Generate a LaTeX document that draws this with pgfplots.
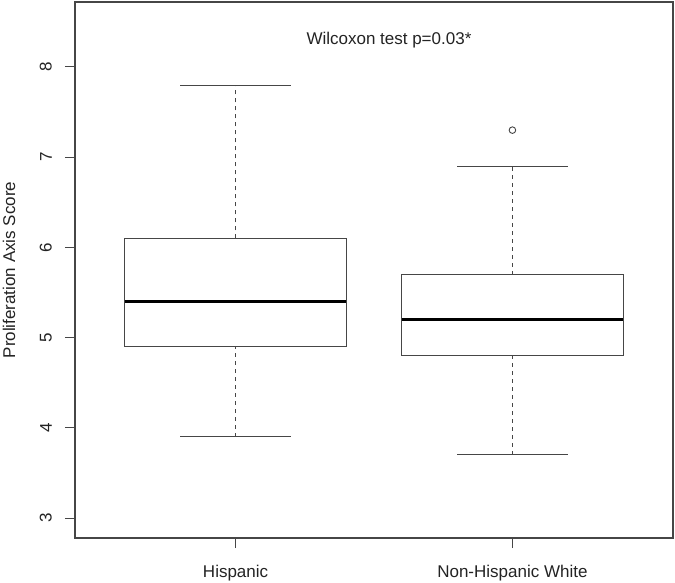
\documentclass[border=0pt]{standalone}
\usepackage{fontspec}
\setmainfont{Liberation Sans}
\usepackage{pgfplots}
\pgfplotsset{compat=1.18}
\definecolor{rline}{RGB}{70,70,70}
\definecolor{rtext}{RGB}{35,35,35}

% box statistics
% Hispanic:  whiskers 3.9 / 7.8, quartiles 4.9 / 6.1, median 5.4
% Non-Hispanic White: whiskers 3.7 / 6.9, quartiles 4.8 / 5.7, median 5.2, outlier 7.3

\begin{document}
\begin{tikzpicture}[font=\fontsize{17bp}{20bp}\selectfont]
\useasboundingbox (-75bp,-45bp) rectangle (600bp,538bp);
\begin{axis}[
  scale only axis, width=598bp, height=536bp,
  xmin=0.42, xmax=2.58, ymin=2.78, ymax=8.72,
  axis line style={rline, line width=1.1bp},
  xtick={1,2}, xticklabels={Hispanic, Non-Hispanic White},
  ytick={3,4,5,6,7,8},
  tick align=outside, major tick length=10bp,
  tick style={rline, line width=1bp},
  xtick pos=left, ytick pos=left,
  /pgf/number format/assume math mode=true,
  ticklabel style={text=rtext, font=\fontsize{17bp}{20bp}\selectfont},
  yticklabel style={rotate=90, anchor=south, inner sep=0pt},
  xticklabel style={anchor=north, inner sep=0pt},
  xticklabel shift=17bp, yticklabel shift=13bp,
  ylabel={Proliferation Axis Score},
  ylabel style={at={(axis description cs:-0.1104,0.5)}, anchor=center,
    text=rtext, font=\fontsize{17bp}{20bp}\selectfont},
  cycle list={{draw=rline, line width=1bp, mark=none, solid}},
  ln/.style={draw=rline, line width=1bp, mark=none, solid},
  whisk/.style={ln, dash pattern=on 4bp off 4bp},
  med/.style={draw=black, line width=3bp, mark=none, solid},
]
% Hispanic
\addplot[whisk] coordinates {(1,3.9) (1,4.9)};
\addplot[whisk] coordinates {(1,6.1) (1,7.8)};
\addplot[ln] coordinates {(0.8,3.9) (1.2,3.9)};
\addplot[ln] coordinates {(0.8,7.8) (1.2,7.8)};
\addplot[ln] coordinates {(0.6,4.9) (1.4,4.9) (1.4,6.1) (0.6,6.1) (0.6,4.9)} -- cycle;
\addplot[med] coordinates {(0.6,5.4) (1.4,5.4)};
% Non-Hispanic White
\addplot[whisk] coordinates {(2,3.7) (2,4.8)};
\addplot[whisk] coordinates {(2,5.7) (2,6.9)};
\addplot[ln] coordinates {(1.8,3.7) (2.2,3.7)};
\addplot[ln] coordinates {(1.8,6.9) (2.2,6.9)};
\addplot[ln] coordinates {(1.6,4.8) (2.4,4.8) (2.4,5.7) (1.6,5.7) (1.6,4.8)} -- cycle;
\addplot[med] coordinates {(1.6,5.2) (2.4,5.2)};
\addplot[only marks, mark=o, mark size=3.3bp,
  mark options={draw=rline, fill=none, line width=0.9bp, solid}]
  coordinates {(2,7.3)};
\node[text=rtext] at (axis cs:1.554,8.3) {Wilcoxon test p=0.03*};
\end{axis}
\end{tikzpicture}
\end{document}
